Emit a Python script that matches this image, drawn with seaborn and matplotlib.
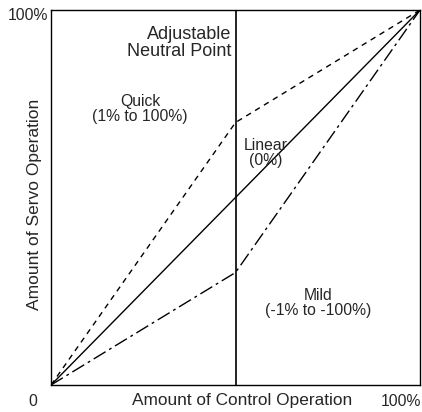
import matplotlib
matplotlib.use("Agg")
import matplotlib.pyplot as plt
import seaborn as sns
import pandas as pd

# amount of control operation (%) -> amount of servo operation (%)
control = [0, 50, 100]
quick = [0, 70, 100]
linear = [0, 50, 100]
mild = [0, 30, 100]
neutral_point = 50

sns.set_style("white")
plt.rcParams["font.family"] = ["Liberation Sans", "DejaVu Sans"]

df = pd.DataFrame({
    "control": control * 3,
    "servo": quick + linear + mild,
    "curve": ["Quick"] * 3 + ["Linear"] * 3 + ["Mild"] * 3,
})

fig = plt.figure(figsize=(4.22, 4.12), dpi=100)
ax = fig.add_axes([51 / 422, 1 - 385 / 412, 369 / 422, 375 / 412])

sns.lineplot(
    data=df,
    x="control",
    y="servo",
    hue="curve",
    style="curve",
    palette={"Quick": "black", "Linear": "black", "Mild": "black"},
    dashes={"Quick": (4, 3.5), "Linear": "", "Mild": (10, 3, 2, 3)},
    linewidth=1.0,
    legend=False,
    ax=ax,
)

ax.axvline(neutral_point, color="black", linewidth=1.2)

ax.set_xlim(0, 100)
ax.set_ylim(0, 100)
ax.set_xticks([])
ax.set_yticks([])
ax.set_xlabel("")
ax.set_ylabel("")
for s in ax.spines.values():
    s.set_color("black")
    s.set_linewidth(1.0)

fs = 11.3
ax.text(48.8, 91.2, "Adjustable\nNeutral Point", ha="right", va="center",
        multialignment="right", fontsize=13, linespacing=0.95)
ax.text(24.1, 73.6, "Quick\n(1% to 100%)", ha="center", va="center", fontsize=fs, linespacing=0.95)
ax.text(58.3, 61.9, "Linear\n(0%)", ha="center", va="center", fontsize=fs, linespacing=0.95)
ax.text(72.4, 21.9, "Mild\n(-1% to -100%)", ha="center", va="center", fontsize=fs, linespacing=0.95)

fig.text(35 / 422, 1 - 204 / 412, "Amount of Servo Operation", rotation=90,
         ha="center", va="center", fontsize=12.5)
fig.text(242 / 422, 1 - 401 / 412, "Amount of Control Operation",
         ha="center", va="center", fontsize=12.4)
fig.text(8 / 422, 1 - 16 / 412, "100%", ha="left", va="center", fontsize=fs)
fig.text(421 / 422, 1 - 401 / 412, "100%", ha="right", va="center", fontsize=fs)
fig.text(33 / 422, 1 - 401 / 412, "0", ha="center", va="center", fontsize=fs)

fig.savefig("out.png", dpi=100)
